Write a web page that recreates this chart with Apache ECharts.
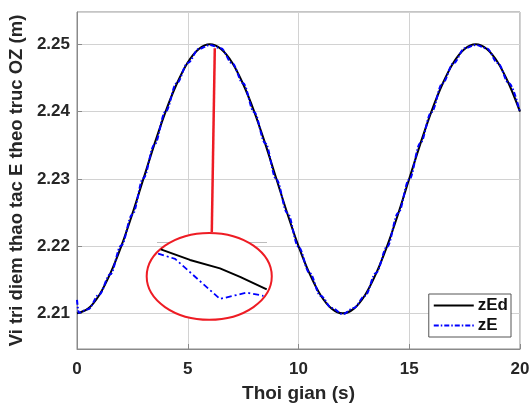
<!DOCTYPE html>
<html>
<head>
<meta charset="utf-8">
<script src="https://cdn.jsdelivr.net/npm/echarts@6/dist/echarts.min.js"></script>
<style>
html,body{margin:0;padding:0;background:#fff;}
#chart{width:530px;height:403px;}
</style>
</head>
<body>
<div id="chart"></div>
<script>
// ---- data ----
const time = [0,0.5,1,1.5,2,2.5,3,3.5,4,4.5,5,5.5,6,6.5,7,7.5,8,8.5,9,9.5,10,10.5,11,11.5,12,12.5,13,13.5,14,14.5,15,15.5,16,16.5,17,17.5,18,18.5,19,19.5,20];
const zEd = [2.2100,2.2107,2.2127,2.2159,2.2200,2.2248,2.2300,2.2352,2.2400,2.2441,2.2473,2.2493,2.2500,2.2493,2.2473,2.2441,2.2400,2.2352,2.2300,2.2248,2.2200,2.2159,2.2127,2.2107,2.2100,2.2107,2.2127,2.2159,2.2200,2.2248,2.2300,2.2352,2.2400,2.2441,2.2473,2.2493,2.2500,2.2493,2.2473,2.2441,2.2400];
const timeE = [0,0.08,0.5,1,1.5,2,2.5,3,3.5,4,4.5,5,5.5,6,6.5,7,7.5,8,8.5,9,9.5,10,10.5,11,11.5,12,12.5,13,13.5,14,14.5,15,15.5,16,16.5,17,17.5,18,18.5,19,19.5,20];
const zE  = [2.2120,2.2101,2.2106,2.2128,2.2158,2.2201,2.2247,2.2301,2.2351,2.2400,2.2442,2.2472,2.2493,2.2499,2.2494,2.2472,2.2442,2.2399,2.2353,2.2299,2.2249,2.2199,2.2160,2.2126,2.2108,2.2099,2.2108,2.2126,2.2160,2.2199,2.2249,2.2299,2.2353,2.2399,2.2442,2.2472,2.2494,2.2499,2.2494,2.2472,2.2442,2.2399];
const xTicks = [0,5,10,15,20];
const yTicks = [2.21,2.22,2.23,2.24,2.25];

// zoomed detail (inset)
const insetTd = [5.914,6.020,6.129,6.202,6.299];
const insetZEd = [2.24993,2.24983,2.24975,2.24967,2.24955];
const insetTe = [5.904,5.966,6.129,6.226,6.287];
const insetZE = [2.24989,2.24984,2.24946,2.24952,2.24949];
const insetGridT = 6.2;
const insetGridZ = 2.2496;

// annotation: connector from zoom ellipse to curve peak, ellipse centre & radii (data units)
const connector = [[6.085,2.2221],[6.221,2.2494]];
const ellipseCenter = [5.97,2.2155];
const ellipseRadius = [2.824,0.00646];

const chart = echarts.init(document.getElementById('chart'), null, {renderer:'canvas'});
const FONT = 'Liberation Sans, Arial, sans-serif';
const pair = (xs, ys) => xs.map((x,i)=>[x, ys[i]]);

const option = {
  animation:false,
  backgroundColor:'#fff',
  grid:[
    {left:77, right:10, top:12, bottom:54, show:true, borderColor:'#8a8a8a', borderWidth:1, backgroundColor:'transparent', containLabel:false, outerBoundsMode:'none'},
    {left:157, top:242, width:110, height:58, show:false, outerBoundsMode:'none'}
  ],
  xAxis:[
    {type:'value', gridIndex:0, min:xTicks[0], max:xTicks[xTicks.length-1], interval:5,
     name:'Thoi gian (s)', nameLocation:'middle', nameGap:35,
     nameTextStyle:{fontFamily:FONT, fontWeight:'bold', fontSize:19, color:'#262626'},
     axisLine:{lineStyle:{color:'#8a8a8a'}},
     axisTick:{inside:true, length:5, lineStyle:{color:'#8a8a8a'}},
     axisLabel:{margin:12, fontFamily:FONT, fontWeight:'bold', fontSize:17, color:'#262626'},
     splitLine:{show:true, lineStyle:{color:'#d2d2d2', width:1}}},
    {type:'value', gridIndex:1, min:5.9, max:6.3, show:false}
  ],
  yAxis:[
    {type:'value', gridIndex:0, min:2.2047, max:2.2548, splitNumber:5,
     name:'Vi tri diem thao tac E theo truc OZ (m)', nameLocation:'middle', nameGap:44,
     nameTextStyle:{fontFamily:FONT, fontWeight:'bold', fontSize:18.5, color:'#262626'},
     axisLine:{show:true, lineStyle:{color:'#8a8a8a'}},
     axisTick:{inside:true, length:5, lineStyle:{color:'#8a8a8a'}},
     axisLabel:{margin:7, showMinLabel:false, showMaxLabel:false, fontFamily:FONT, fontWeight:'bold', fontSize:17, color:'#262626',
       formatter:v=>v.toFixed(2)},
     splitLine:{show:true, lineStyle:{color:'#d2d2d2', width:1}}},
    {type:'value', gridIndex:1, min:2.24945, max:2.2500, show:false}
  ],
  legend:{
    data:['zEd','zE'], orient:'vertical', right:19, top:294,
    backgroundColor:'#fff', borderColor:'#555', borderWidth:1,
    padding:[3,3,3,4], itemGap:3, itemWidth:40, itemHeight:15,
    itemStyle:{opacity:0},
    textStyle:{fontFamily:FONT, fontWeight:'bold', fontSize:17, color:'#111', padding:[0,0,0,-1]}
  },
  series:[
    {name:'zEd', type:'line', xAxisIndex:0, yAxisIndex:0, data:pair(time,zEd), smooth:0.35,
     symbol:'none', lineStyle:{color:'#000', width:2}, itemStyle:{color:'#000'}, z:2,
     markLine:{silent:true, symbol:'none', label:{show:false}, lineStyle:{color:'#ee1c24', width:2.5, type:'solid'},
       data:[[{coord:connector[0]},{coord:connector[1]}]]}},
    {name:'zE', type:'line', xAxisIndex:0, yAxisIndex:0, data:pair(timeE,zE), smooth:0.35, smoothMonotone:'x',
     symbol:'none', lineStyle:{color:'#0000ff', width:2, type:[5,2,1.5,2]}, itemStyle:{color:'#0000ff'}, z:3},
    {name:'zEd_zoom', type:'line', xAxisIndex:1, yAxisIndex:1, data:pair(insetTd,insetZEd),
     symbol:'none', lineStyle:{color:'#000', width:2}, z:60,
     markLine:{silent:true, symbol:'none', label:{show:false}, lineStyle:{color:'#bcbcbc', width:1, type:'solid'},
       data:[{xAxis:insetGridT},{yAxis:insetGridZ}]}},
    {name:'zE_zoom', type:'line', xAxisIndex:1, yAxisIndex:1, data:pair(insetTe,insetZE),
     symbol:'none', lineStyle:{color:'#0000ff', width:1.8, type:[6,3,2,3]}, z:61}
  ]
};
chart.setOption(option);

const c = chart.convertToPixel({gridIndex:0}, ellipseCenter);
const e = chart.convertToPixel({gridIndex:0}, [ellipseCenter[0]+ellipseRadius[0], ellipseCenter[1]+ellipseRadius[1]]);
chart.setOption({
  graphic:[{type:'ellipse', z:50, shape:{cx:c[0], cy:c[1], rx:Math.abs(e[0]-c[0]), ry:Math.abs(e[1]-c[1])},
    style:{fill:'#fff', stroke:'#ee1c24', lineWidth:2}}]
});
</script>
</body>
</html>
